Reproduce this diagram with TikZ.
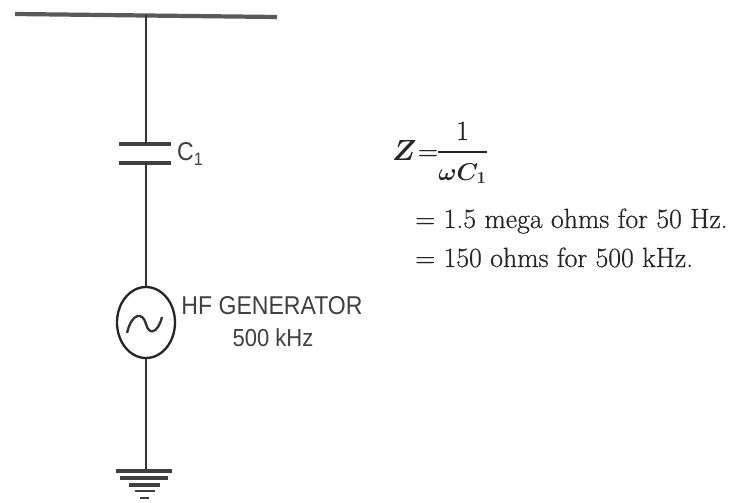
\documentclass[tikz,border=0pt]{standalone}
\usepackage{fontspec}
\newfontfamily\labelfont[FakeStretch=0.895]{Liberation Sans}
\newfontfamily\eqfont[FakeBold=0.6]{Latin Modern Roman}
\usetikzlibrary{positioning,shapes.geometric}
\usepackage{amsmath}

\tikzset{
    wire/.style={draw=black!80, line width=2pt},
    plate/.style={draw=black!75, line width=3.2pt},
    labeltext/.style={font=\labelfont\fontsize{22}{26}\selectfont, text=black!75, inner sep=0pt},
    eqtext/.style={font=\eqfont\fontsize{23.7}{28}\selectfont\boldmath, text=black!85, inner sep=0pt, anchor=base west}
}

\begin{document}
\begin{tikzpicture}[x=0.03cm,y=-0.03cm]

        \useasboundingbox (0,0) rectangle (733,502);

        % bus
        \coordinate (busL) at (15,14);
        \coordinate (busR) at (277,17);
        \coordinate (busT) at (146,15);
        \draw[plate, black!65, line width=3.6pt] (busL) -- (busR);

        % capacitor
        \coordinate (capAL) at (119,144);
        \coordinate (capAR) at (171,144);
        \coordinate (capA) at (146,144);
        \coordinate (capBL) at (119,163);
        \coordinate (capBR) at (171,163);
        \coordinate (capB) at (146,163);
        \draw[plate] (capAL) -- (capAR);
        \draw[plate] (capBL) -- (capBR);
        \draw[wire] (busT) -- (capA);
        \node[labeltext, anchor=west] (capLabel) at (177,154) {C\textsubscript{1}};

        % generator
        \node[draw=black!85, line width=2pt, ellipse, minimum width=58*0.03cm, minimum height=71*0.03cm, inner sep=0pt] (gen) at (146,322.5) {};
        \draw[wire] (capB) -- (gen.north);
        \draw[wire] (127,333) .. controls (132,312) and (143,312) .. (146,324) .. controls (149,336) and (158,333) .. (162,317);
        \node[labeltext] (genLabel) at (272,306) {HF GENERATOR};
        \node[labeltext, font=\labelfont\fontsize{21}{25}\selectfont] (genFreq) at (273,338) {500 kHz};

        % earth
        \coordinate (gndA) at (146,471);
        \draw[wire] (gen.south) -- (gndA);
        \draw[plate, line width=2.8pt] (116,471) -- (172,471);
        \draw[plate, line width=2.6pt] (120,478) -- (168,478);
        \draw[plate, line width=2.6pt] (129,485) -- (160,485);
        \draw[plate, line width=2.4pt] (135,491) -- (155,491);
        \draw[plate, line width=2.4pt] (140,498) -- (149,498);

        % impedance
        \node[eqtext] (eqZ) at (392,160) {$Z$\hspace{1pt}=};
        \node[eqtext, anchor=base] (eqNum) at (462.5,140) {1};
        \node[eqtext, anchor=base, font=\eqfont\fontsize{20.74}{25}\selectfont\boldmath] (eqDen) at (462.5,180) {$\omega C_1$};
        \draw[draw=black!85, line width=1.4pt] (438,152) -- (487,152);
        \node[eqtext] (eqA) at (415,228) {= 1.5 mega ohms for 50 Hz.};
        \node[eqtext] (eqB) at (415,267) {= 150 ohms for 500 kHz.};

\end{tikzpicture}
\end{document}
